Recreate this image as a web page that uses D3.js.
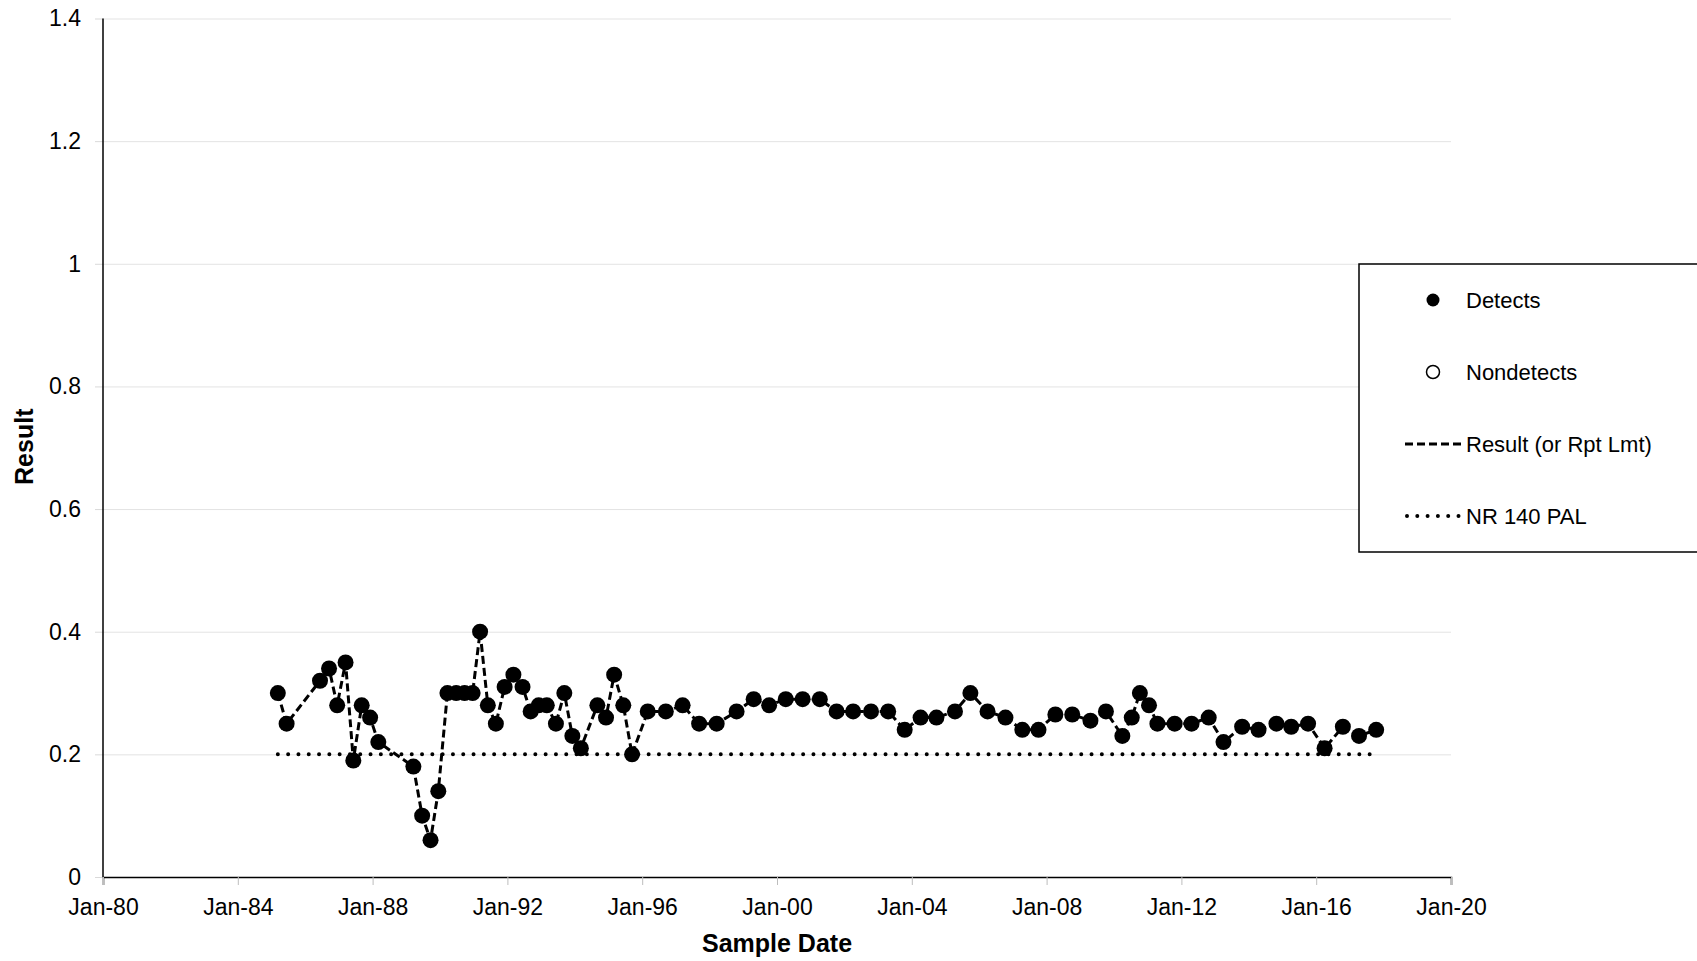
<!DOCTYPE html>
<html>
<head>
<meta charset="utf-8">
<script src="https://cdn.jsdelivr.net/npm/d3@7"></script>
<style>
  body { margin: 0; background: #fff; }
  svg { display: block; font-family: "Liberation Sans", Arial, sans-serif; }
</style>
</head>
<body>
<div class="vis-linechart"></div>
<script>
// sample dates
const sampleDates = [
  "1985-03-10", "1985-06-13", "1986-06-10", "1986-09-16", "1986-12-13", "1987-03-14",
  "1987-06-06", "1987-09-05", "1987-12-05", "1988-03-03", "1989-03-18", "1989-06-21",
  "1989-09-20", "1989-12-13", "1990-03-22", "1990-06-25", "1990-09-24", "1990-12-20",
  "1991-03-11", "1991-06-03", "1991-08-29", "1991-12-02", "1992-03-06", "1992-06-13",
  "1992-09-09", "1992-12-05", "1993-03-03", "1993-06-10", "1993-09-09", "1993-12-05",
  "1994-03-07", "1994-09-02", "1994-12-05", "1995-03-03", "1995-06-10", "1995-09-13",
  "1996-03-01", "1996-09-13", "1997-03-14", "1997-09-09", "1998-03-18", "1998-10-20",
  "1999-04-23", "1999-10-08", "2000-04-05", "2000-10-05", "2001-04-09", "2001-10-08",
  "2002-04-05", "2002-10-16", "2003-04-20", "2003-10-16", "2004-04-05", "2004-09-24",
  "2005-04-13", "2005-09-27", "2006-04-01", "2006-10-12", "2007-04-13", "2007-10-05",
  "2008-04-05", "2008-10-05", "2009-04-20", "2009-10-05", "2010-04-01", "2010-07-12",
  "2010-10-08", "2011-01-15", "2011-04-16", "2011-10-20", "2012-04-20", "2012-10-23",
  "2013-04-01", "2013-10-20", "2014-04-16", "2014-10-27", "2015-04-05", "2015-10-05",
  "2016-04-01", "2016-10-16", "2017-04-09", "2017-10-12"
];
const results = [
  0.30, 0.25, 0.32, 0.34, 0.28, 0.35,
  0.19, 0.28, 0.26, 0.22, 0.18, 0.10,
  0.06, 0.14, 0.30, 0.30, 0.30, 0.30,
  0.40, 0.28, 0.25, 0.31, 0.33, 0.31,
  0.27, 0.28, 0.28, 0.25, 0.30, 0.23,
  0.21, 0.28, 0.26, 0.33, 0.28, 0.20,
  0.27, 0.27, 0.28, 0.25, 0.25, 0.27,
  0.29, 0.28, 0.29, 0.29, 0.29, 0.27,
  0.27, 0.27, 0.27, 0.24, 0.26, 0.26,
  0.27, 0.30, 0.27, 0.26, 0.24, 0.24,
  0.265, 0.265, 0.255, 0.27, 0.23, 0.26,
  0.30, 0.28, 0.25, 0.25, 0.25, 0.26,
  0.22, 0.245, 0.24, 0.25, 0.245, 0.25,
  0.21, 0.245, 0.23, 0.24
];
const palValue = 0.2;
const yTicks = [0, 0.2, 0.4, 0.6, 0.8, 1, 1.2, 1.4];
const xDomain = ["1980-01-01", "2020-01-01"];
const legendItems = ["Detects", "Nondetects", "Result (or Rpt Lmt)", "NR 140 PAL"];

const width = 1697;
const height = 961;
const margin = { top: 18.5, right: 246, bottom: 84, left: 103 };

const parseTime = d3.timeParse("%Y-%m-%d");
const data = sampleDates.map((d, i) => ({ date: parseTime(d), value: results[i] }));

const svg = d3.select(".vis-linechart").append("svg")
  .attr("width", width)
  .attr("height", height);

const x = d3.scaleTime()
  .domain(xDomain.map(parseTime))
  .range([margin.left, width - margin.right]);
const y = d3.scaleLinear()
  .domain([0, 1.4])
  .range([height - margin.bottom, margin.top]);

// gridlines + y axis
const yAxis = svg.append("g")
  .attr("transform", "translate(" + margin.left + ",0)")
  .call(d3.axisLeft(y).tickValues(yTicks).tickSize(8).tickPadding(14)
    .tickFormat(d => String(+d.toFixed(1))));
yAxis.select(".domain").remove();
yAxis.selectAll(".tick line").attr("stroke", "#d9d9d9");
yAxis.selectAll(".tick")
  .append("line")
  .attr("x1", 0)
  .attr("x2", width - margin.right - margin.left)
  .attr("stroke", "#e3e3e3");
yAxis.selectAll("text").attr("font-size", 23).attr("fill", "#000")
  .attr("font-family", "Liberation Sans, Arial, sans-serif");

// x axis
const xAxis = svg.append("g")
  .attr("transform", "translate(0," + y(0) + ")")
  .call(d3.axisBottom(x).ticks(d3.timeYear.every(4)).tickSize(8).tickPadding(14)
    .tickFormat(d3.timeFormat("%b-%y")));
xAxis.select(".domain").attr("stroke", "#000").attr("stroke-width", 1.5);
xAxis.selectAll(".tick line").attr("stroke", "#bdbdbd");
xAxis.selectAll("text").attr("font-size", 23).attr("fill", "#000")
  .attr("font-family", "Liberation Sans, Arial, sans-serif");

// y axis line
svg.append("line")
  .attr("x1", margin.left).attr("x2", margin.left)
  .attr("y1", y(1.4)).attr("y2", y(0))
  .attr("stroke", "#000").attr("stroke-width", 1.5);

// PAL line
svg.append("line")
  .attr("x1", x(data[0].date))
  .attr("x2", x(data[data.length - 1].date))
  .attr("y1", y(palValue)).attr("y2", y(palValue))
  .attr("stroke", "#000")
  .attr("stroke-width", 4)
  .attr("stroke-linecap", "round")
  .attr("stroke-dasharray", "0,10.3");

// result line
const valueline = d3.line()
  .x(d => x(d.date))
  .y(d => y(d.value));

svg.append("path")
  .datum(data)
  .attr("fill", "none")
  .attr("stroke", "#000")
  .attr("stroke-width", 3)
  .attr("stroke-dasharray", "8,4")
  .attr("d", valueline);

// detects
svg.append("g").selectAll("circle")
  .data(data)
  .join("circle")
  .attr("cx", d => x(d.date))
  .attr("cy", d => y(d.value))
  .attr("r", 8)
  .attr("fill", "#000");

// axis titles
svg.append("text")
  .attr("x", (margin.left + width - margin.right) / 2)
  .attr("y", 952)
  .attr("text-anchor", "middle")
  .attr("font-size", 25)
  .attr("font-weight", "bold")
  .text("Sample Date");

svg.append("text")
  .attr("transform", "translate(33," + (y(0.7) - 1) + ") rotate(-90)")
  .attr("text-anchor", "middle")
  .attr("font-size", 25)
  .attr("font-weight", "bold")
  .text("Result");

// legend
const legend = svg.append("g");
legend.append("rect")
  .attr("x", 1359).attr("y", 264)
  .attr("width", 400).attr("height", 288)
  .attr("fill", "#fff")
  .attr("stroke", "#000")
  .attr("stroke-width", 1.5);

const rowY = [300, 372, 444, 516];
legendItems.forEach((label, i) => {
  legend.append("text")
    .attr("x", 1466)
    .attr("y", rowY[i])
    .attr("dy", "0.35em")
    .attr("font-size", 22)
    .text(label);
});
legend.append("circle").attr("cx", 1433).attr("cy", rowY[0]).attr("r", 6.5).attr("fill", "#000");
legend.append("circle").attr("cx", 1433).attr("cy", rowY[1]).attr("r", 6.5)
  .attr("fill", "#fff").attr("stroke", "#000").attr("stroke-width", 1.5);
legend.append("line")
  .attr("x1", 1405).attr("x2", 1463)
  .attr("y1", rowY[2]).attr("y2", rowY[2])
  .attr("stroke", "#000").attr("stroke-width", 3)
  .attr("stroke-dasharray", "8,4");
legend.append("line")
  .attr("x1", 1407).attr("x2", 1463)
  .attr("y1", rowY[3]).attr("y2", rowY[3])
  .attr("stroke", "#000").attr("stroke-width", 4)
  .attr("stroke-linecap", "round")
  .attr("stroke-dasharray", "0,10.3");
</script>
</body>
</html>
